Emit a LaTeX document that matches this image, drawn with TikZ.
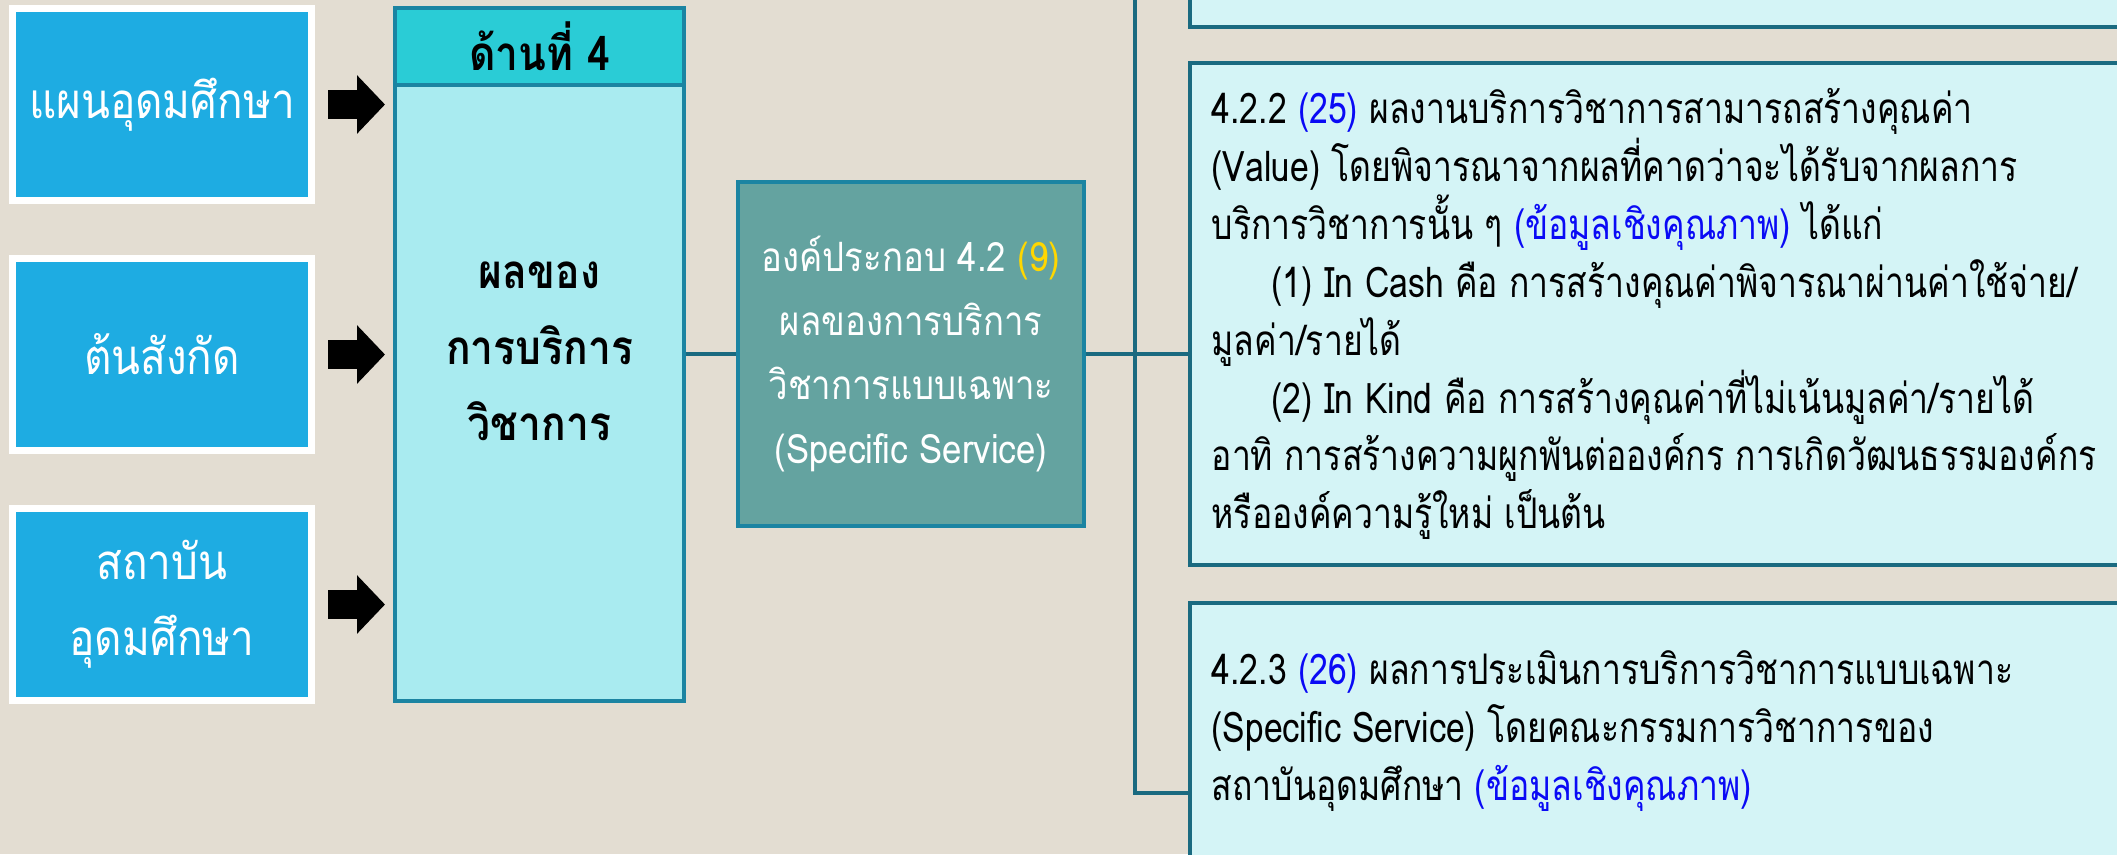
\documentclass[tikz,border=0pt]{standalone}
\usepackage{fontspec}
\usepackage{xcolor}
\usepackage{tikz}
\usetikzlibrary{arrows.meta}
\newfontfamily\thaifont[Script=Thai,FakeStretch=0.86]{Loma}
\newfontfamily\thainarrow[Script=Thai,FakeStretch=0.8]{Loma}
\definecolor{bgbeige}{HTML}{E3DDD2}
\definecolor{srcblue}{HTML}{1EACE2}
\definecolor{headcyan}{HTML}{2ACCD6}
\definecolor{bodycyan}{HTML}{A9EBF0}
\definecolor{frameblue}{HTML}{1B84A2}
\definecolor{elemteal}{HTML}{64A3A0}
\definecolor{connteal}{HTML}{1A6A80}
\definecolor{itemfill}{HTML}{D4F4F6}
\definecolor{refblue}{HTML}{0A0AF5}
\definecolor{refyellow}{HTML}{FFD700}
\tikzset{
srcbox/.style = {rectangle, fill=srcblue, draw=white, line width=2pt,
                 minimum width=2.99cm, minimum height=1.92cm, text=white,
                 align=center, font=\thaifont\fontsize{14}{21.6}\selectfont},
}
\tikzset{
frame/.style = {rectangle, draw=frameblue, line width=0.04cm,
                minimum width=#1, inner sep=0pt},
frame/.default = 2.89cm % width of the side column
}
\tikzset{
item/.style = {rectangle, fill=itemfill, draw=connteal, line width=0.04cm,
               minimum width=9.5cm},
itemtext/.style = {anchor=north west, align=left, inner sep=0pt,
                   font=\thainarrow\fontsize{12}{16.45}\selectfont},
conn/.style = {draw=connteal, line width=0.04cm},
bigarrow/.style = {-{Triangle[length=0.28cm, width=0.57cm]}, line width=0.29cm,
                   shorten <=0.13cm, shorten >=0.08cm}
}
\newcommand{\refnum}[1]{{\color{refblue}#1}}
\begin{document}
\begin{tikzpicture}[y=-1cm]
    \useasboundingbox[fill=bgbeige] (0,0) rectangle (21.17,8.54);
    \clip (0,0) rectangle (21.17,8.54);

    % sources on the left
    \node[srcbox] (src1) at (1.62,1.045) {แผนอุดมศึกษา};
    \node[srcbox] (src2) at (1.62,3.545) {ต้นสังกัด};
    \node[srcbox] (src3) at (1.62,6.045) {สถาบัน\\อุดมศึกษา};

    % side column
    \node[frame, fill=headcyan, minimum height=0.77cm] (head) at (5.395,0.465) {};
    \node[font=\thaifont\bfseries\fontsize{13.5}{21.6}\selectfont] (headtxt) at (head.center) {ด้านที่ 4};
    \node[frame, fill=bodycyan, minimum height=6.16cm] (body) at (5.395,3.93) {};
    \node[align=center, font=\thaifont\bfseries\fontsize{13.5}{21.6}\selectfont] (bodytxt) at (5.395,3.515) {ผลของ\\การบริการ\\วิชาการ};

    \draw[bigarrow] (src1.east) -- (src1.east -| body.west);
    \draw[bigarrow] (src2.east) -- (src2.east -| body.west);
    \draw[bigarrow] (src3.east) -- (src3.east -| body.west);

    % element 4.2
    \node[frame=3.46cm, fill=elemteal, minimum height=3.44cm, text=white, align=center,
          font=\thaifont\fontsize{11.5}{18.2}\selectfont] (elem) at (9.11,3.54)
          {องค์ประกอบ 4.2 {\color{refyellow}(9)}\\ผลของการบริการ\\วิชาการแบบเฉพาะ\\(Specific Service)};
    \draw[conn] (body.east |- elem.west) -- (elem.west);

    % items on the right
    \node[item, minimum height=1.54cm] (item1) at (16.65,-0.5) {};
    \node[item, minimum height=5.02cm] (item2) at (16.65,3.14) {};
    \node[item, minimum height=3.80cm] (item3) at (16.65,7.93) {};
    \coordinate (jn) at (11.35,3.54);

    \draw[conn] (elem.east) -- (item2.west |- elem.east);
    \draw[conn] (item1.west) -| (jn);
    \draw[conn] (jn) |- (item3.west);

    \node[itemtext] (txt2) at (12.11,0.88) {4.2.2 \refnum{(25)} ผลงานบริการวิชาการสามารถสร้างคุณค่า\\
(Value) โดยพิจารณาจากผลที่คาดว่าจะได้รับจากผลการ\\
บริการวิชาการนั้น ๆ \refnum{(ข้อมูลเชิงคุณภาพ)} ได้แก่\\
\hspace*{0.6cm}(1) In Cash คือ การสร้างคุณค่าพิจารณาผ่านค่าใช้จ่าย/\\
มูลค่า/รายได้\\
\hspace*{0.6cm}(2) In Kind คือ การสร้างคุณค่าที่ไม่เน้นมูลค่า/รายได้\\
อาทิ การสร้างความผูกพันต่อองค์กร การเกิดวัฒนธรรมองค์กร\\
หรือองค์ความรู้ใหม่ เป็นต้น};
    \node[itemtext] (txt3) at (12.11,6.50) {4.2.3 \refnum{(26)} ผลการประเมินการบริการวิชาการแบบเฉพาะ\\
(Specific Service) โดยคณะกรรมการวิชาการของ\\
สถาบันอุดมศึกษา \refnum{(ข้อมูลเชิงคุณภาพ)}};
\end{tikzpicture}
\end{document}
